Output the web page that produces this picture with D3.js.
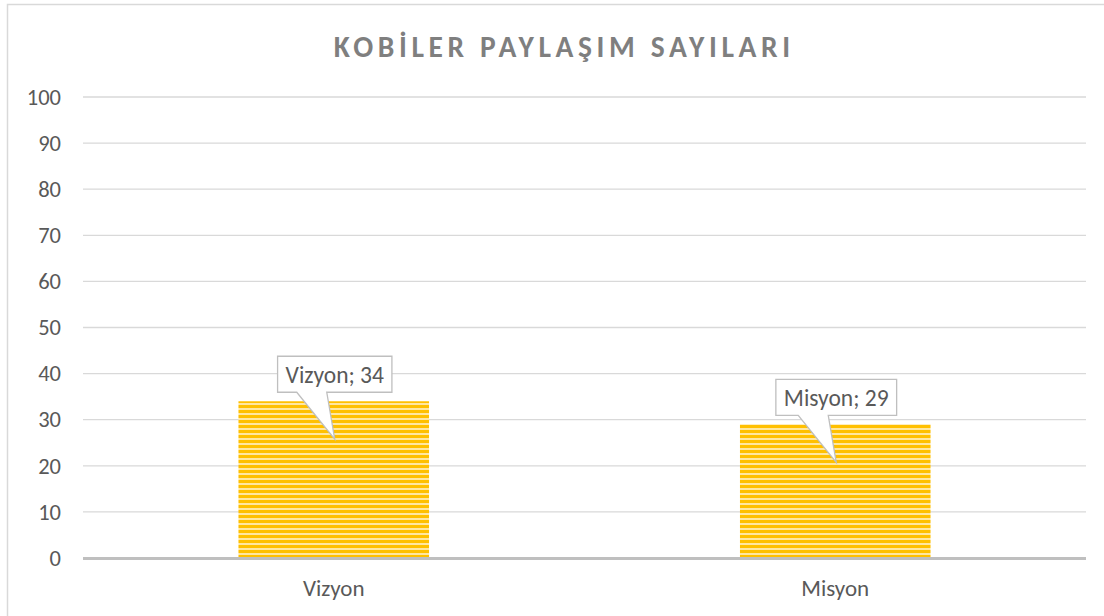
<!DOCTYPE html>
<html lang="tr">
<head>
  <meta charset="utf-8">
  <title>KOBİLER PAYLAŞIM SAYILARI</title>
  <style>
    body { margin: 0; background: #fff; }
    svg text { font-family: Carlito, Calibri, "Open Sans", "Liberation Sans", sans-serif; }
  </style>
</head>
<body>
<svg id="chart" width="1104" height="616"></svg>
<script src="https://d3js.org/d3.v7.min.js"></script>
<script>

// chart data
const categories = ["Vizyon", "Misyon"];
const values = [34, 29];
const yTicks = [0, 10, 20, 30, 40, 50, 60, 70, 80, 90, 100];
const title = "KOBİLER PAYLAŞIM SAYILARI";

const fontStack = "Carlito, Calibri, 'Open Sans', sans-serif";
const svg = d3.select("#chart");

// outer frame
svg.append("rect")
  .attr("x", 7.5).attr("y", 4.5)
  .attr("width", 1110).attr("height", 620)
  .attr("fill", "#fff").attr("stroke", "#d9d9d9").attr("stroke-width", 1.5);

// stripe pattern for bars
const pat = svg.append("defs").append("pattern")
  .attr("id", "stripes").attr("patternUnits", "userSpaceOnUse")
  .attr("width", 10).attr("height", 5);
pat.append("rect").attr("width", 10).attr("height", 5).attr("fill", "#ffe7a0");
pat.append("rect").attr("y", 0).attr("width", 10).attr("height", 3).attr("fill", "#ffc000");

const plot = { left: 83, right: 1086, top: 97, bottom: 558 };

const x = d3.scaleBand().domain(categories)
  .range([plot.left, plot.right]).paddingInner(0.62).paddingOuter(0.31);
const y = d3.scaleLinear().domain([0, 100]).range([plot.bottom, plot.top]);

// title, spaced out to the reference width
const tt = svg.append("text")
  .attr("x", 562).attr("y", 57)
  .attr("text-anchor", "middle")
  .attr("fill", "#7f7f7f").attr("font-size", 29.5).attr("font-weight", "bold")
  .text(title);
const natural = tt.node().getComputedTextLength();
const spacing = Math.max(0, (461 - natural) / title.length);
tt.attr("letter-spacing", spacing).attr("x", 562 + spacing / 2);

// gridlines
svg.append("g").selectAll("line").data(yTicks.filter(d => d > 0)).enter().append("line")
  .attr("x1", plot.left).attr("x2", plot.right)
  .attr("y1", d => y(d)).attr("y2", d => y(d))
  .attr("stroke", "#d9d9d9").attr("stroke-width", 1.3);

// y axis labels
const yAxis = svg.append("g").attr("transform", "translate(" + plot.left + ",0)")
  .call(d3.axisLeft(y).tickValues(yTicks).tickSize(0).tickPadding(22));
yAxis.select(".domain").remove();
yAxis.selectAll("text")
  .attr("fill", "#595959").attr("font-size", 22.5)
  .attr("font-family", fontStack);

// bars
svg.append("g").selectAll("rect").data(values).enter().append("rect")
  .attr("x", (d, i) => x(categories[i]))
  .attr("y", d => y(d))
  .attr("width", x.bandwidth())
  .attr("height", d => y(0) - y(d))
  .attr("fill", "url(#stripes)");

// x axis line
svg.append("line")
  .attr("x1", plot.left).attr("x2", plot.right)
  .attr("y1", y(0) + 0.5).attr("y2", y(0) + 0.5)
  .attr("stroke", "#bfbfbf").attr("stroke-width", 3);

// category labels
const xAxis = svg.append("g").attr("transform", "translate(0," + y(0) + ")")
  .call(d3.axisBottom(x).tickSize(0).tickPadding(22));
xAxis.select(".domain").remove();
xAxis.selectAll("text")
  .attr("fill", "#595959").attr("font-size", 23)
  .attr("font-family", fontStack);

// callout labels
const callouts = svg.append("g").selectAll("g").data(values).enter().append("g");
callouts.each(function(d, i) {
  const g = d3.select(this);
  const cx = x(categories[i]) + x.bandwidth() / 2;
  const top = y(d);
  const label = categories[i] + "; " + d;
  const t = g.append("text")
    .attr("x", cx + 1).attr("y", top - 18)
    .attr("text-anchor", "middle")
    .attr("fill", "#595959").attr("font-size", 23.5)
    .text(label);
  const w = t.node().getComputedTextLength() + 16;
  const bx = cx + 1 - w / 2, by = top - 45, bh = 36;
  const tipX = cx + 1, tipY = top + 38;
  const path = [
    [bx, by], [bx + w, by], [bx + w, by + bh],
    [cx - 7, by + bh], [tipX, tipY], [cx - 37, by + bh],
    [bx, by + bh]
  ];
  g.insert("path", "text")
    .attr("d", d3.line()(path) + "Z")
    .attr("fill", "#fff").attr("stroke", "#bfbfbf").attr("stroke-width", 1.3);
});

</script>
</body>
</html>
